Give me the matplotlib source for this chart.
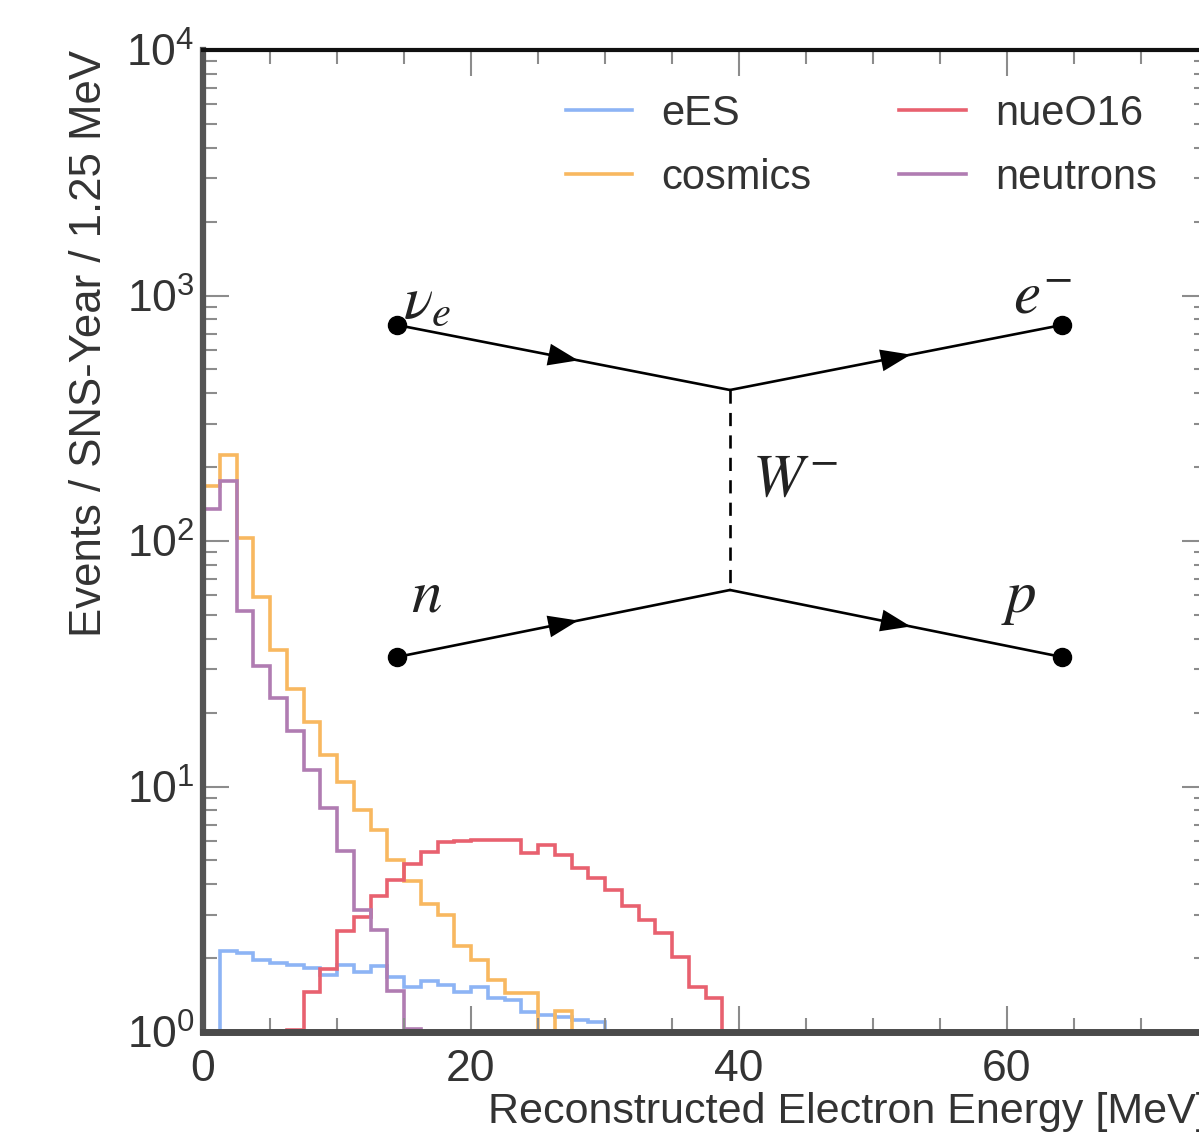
import matplotlib
matplotlib.use("Agg")
import matplotlib.pyplot as plt
from matplotlib.ticker import MultipleLocator, LogLocator, NullFormatter
import numpy as np

plt.rcParams['font.family'] = ['Liberation Sans', 'DejaVu Sans']
plt.rcParams['mathtext.fontset'] = 'custom'
plt.rcParams['mathtext.rm'] = 'Liberation Sans'
plt.rcParams['mathtext.it'] = 'Liberation Sans:italic'

# histogram contents per 1.25 MeV bin, starting at 0 MeV (0 = empty / off scale)
bin_width = 1.25
ees = [0, 2.13, 2.1, 1.97, 1.91, 1.87, 1.82, 1.70, 1.88, 1.76, 1.86, 1.68, 1.52,
       1.61, 1.56, 1.46, 1.52, 1.37, 1.35, 1.21, 1.17, 1.15, 1.12, 1.10, 0]
nue_o16 = [0, 0, 0, 0, 0, 1.02, 1.46, 1.81, 2.59, 2.94, 3.57, 4.17, 4.85, 5.4,
           5.95, 5.98, 6.08, 6.08, 6.08, 5.36, 5.8, 5.28, 4.66, 4.24, 3.8, 3.25,
           2.87, 2.53, 2.03, 1.53, 1.37, 0]
cosmics = [168, 223, 103, 59, 36, 24.9, 18.3, 13.5, 10.4, 8.05, 6.67, 5.0, 4.11,
           3.32, 3.0, 2.23, 1.96, 1.63, 1.44, 1.44, 0, 1.22, 0]
neutrons = [135, 176, 52, 31, 23, 16.8, 11.7, 8.2, 5.44, 3.15, 2.61, 1.47, 1.03, 0]

series = [("eES", ees, "#8db4f5"),
          ("cosmics", cosmics, "#f8b860"),
          ("nueO16", nue_o16, "#e8616f"),
          ("neutrons", neutrons, "#b07cb2")]

# Feynman diagram overlay (figure pixels, origin top-left)
dots_x = [397, 1062, 397, 1062]
dots_y = [325, 325, 657, 657]
vertex_x = [730, 730]
vertex_y = [390, 590]
legs = [(0, 0), (0, 1), (1, 2), (1, 3)]  # (vertex index, dot index)
diagram_labels = [(r"$\nu_e$", 403, 318, "left"), (r"$e^{-}$", 1072, 314, "right"),
                  (r"$n$", 411, 612, "left"), (r"$p$", 1036, 612, "right"),
                  (r"$W^{-}$", 752, 496, "left")]

W, H = 1199, 1133
fig = plt.figure(figsize=(W / 100, H / 100), dpi=100)
ax = fig.add_axes([203 / W, (H - 1032) / H, 1005 / W, 982 / H])

for name, vals, col in series:
    edges = np.arange(len(vals) + 1) * bin_width
    ax.stairs(vals, edges, baseline=None, color=col, lw=2.6, label=name)

ax.set_yscale('log', nonpositive='clip')
ax.set_xlim(0, 75)
ax.set_ylim(1, 1e4)

ax.xaxis.set_major_locator(MultipleLocator(20))
ax.xaxis.set_minor_locator(MultipleLocator(5))
ax.yaxis.set_major_locator(LogLocator(base=10))
ax.yaxis.set_minor_locator(LogLocator(base=10, subs=np.arange(2, 10)))
ax.yaxis.set_minor_formatter(NullFormatter())
ax.tick_params(which='both', direction='in', top=True, right=True,
               color='#8c8c8c', width=1.5, labelsize=32, labelcolor='#333333')
ax.tick_params(which='major', length=19)
ax.tick_params(which='minor', length=10)
ax.tick_params(axis='x', pad=12)
ax.tick_params(axis='y', pad=6)

ax.spines['left'].set_linewidth(4.5)
ax.spines['left'].set_color('#555555')
ax.spines['bottom'].set_linewidth(5)
ax.spines['bottom'].set_color('#4a4a4a')
ax.spines['top'].set_linewidth(3)
ax.spines['top'].set_color('#111111')

ax.set_xlabel("Reconstructed Electron Energy [MeV]", fontsize=31, loc='right',
              color='#333333', labelpad=2)
ax.set_ylabel("Events / SNS-Year / 1.25 MeV", fontsize=31.5, loc='top',
              color='#333333', labelpad=12)

leg = ax.legend(ncol=2, loc='upper right', bbox_to_anchor=(0.978, 0.985),
                frameon=False, fontsize=30, handlelength=1.6, handletextpad=0.7,
                columnspacing=2.1, labelspacing=0.58, borderaxespad=0.3)
for t in leg.get_texts():
    t.set_color('#333333')

# overlay for the diagram
ov = fig.add_axes([0, 0, 1, 1])
ov.set_xlim(0, W)
ov.set_ylim(H, 0)
ov.axis('off')
ov.patch.set_alpha(0)

for vi, di in legs:
    x0, y0 = dots_x[di], dots_y[di]
    x1, y1 = vertex_x[vi], vertex_y[vi]
    if di in (1, 3):
        x0, y0, x1, y1 = x1, y1, x0, y0
    ov.plot([x0, x1], [y0, y1], color='black', lw=1.9, solid_capstyle='round')
    # arrowhead in the middle, pointing left to right
    mx, my = (x0 + x1) / 2, (y0 + y1) / 2
    d = np.array([x1 - x0, y1 - y0], dtype=float)
    d /= np.hypot(*d)
    n = np.array([-d[1], d[0]])
    tip = np.array([mx, my]) + d * 15
    base = np.array([mx, my]) - d * 15
    tri = np.array([tip, base + n * 11, base - n * 11])
    ov.fill(tri[:, 0], tri[:, 1], color='black', lw=0)

ov.plot(vertex_x, vertex_y, color='black', lw=1.9, dashes=(5, 3.5))
ov.plot(dots_x, dots_y, 'o', color='black', ms=13)

for txt, x, y, ha in diagram_labels:
    ov.text(x, y, txt, fontsize=44, ha=ha, va='baseline', color='#222222',
            math_fontfamily='stix')

fig.savefig("out.png", dpi=100)
